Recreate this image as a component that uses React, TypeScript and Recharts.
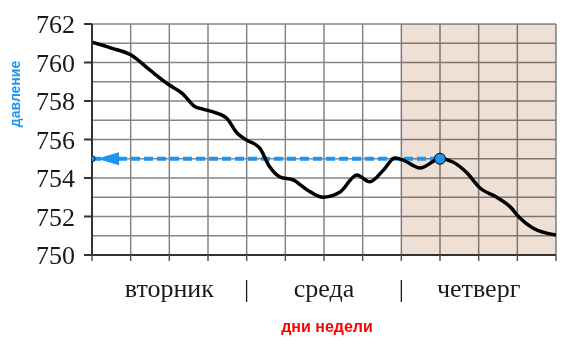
import {
  ComposedChart,
  Line,
  Scatter,
  XAxis,
  YAxis,
  CartesianGrid,
  ReferenceArea,
} from "recharts";

// hours since start of Tuesday, 4 columns = 1 day
const hours = [0, 3, 6, 9, 12, 14, 16, 17.2, 18.8, 20.9, 22.5, 24, 26, 27.6, 29.2, 31.2, 33.4, 35.8, 38.5, 41.1, 43.1, 45.2, 47, 48.3, 50.9, 54, 56, 58.2, 60.2, 62.8, 64.9, 66.4, 68.4, 72];
const pressure = [761.05, 760.75, 760.4, 759.6, 758.83, 758.4, 757.7, 757.58, 757.43, 757.1, 756.34, 755.97, 755.56, 754.57, 754.05, 753.9, 753.38, 753.0, 753.27, 754.16, 753.8, 754.4, 755.04, 754.93, 754.52, 755, 754.83, 754.26, 753.48, 753.0, 752.5, 751.92, 751.4, 751.04];

const colTicks = [0, 6, 12, 18, 24, 30, 36, 42, 48, 54, 60, 66, 72];
const yTicks = [750, 752, 754, 756, 758, 760, 762];
const yGrid = [750, 751, 752, 753, 754, 755, 756, 757, 758, 759, 760, 761, 762];
const dayTicks = [12, 36, 60];
const dayNames = ["вторник", "среда", "четверг"];
const sepTicks = [24, 48];
const markerHours = [0, 54];
const markerValue = 755;
const shadeFrom = 48;
const shadeTo = 72;

const curve = hours.map((h, i) => ({ h, v: pressure[i] }));
const markers = markerHours.map((h) => ({ h, v: markerValue }));

const BLUE = "#1f95ee";
const SERIF = "'Liberation Serif', 'Times New Roman', serif";
const SANS = "'Liberation Sans', Arial, sans-serif";

function DayTick(props: any) {
  const { x, y, payload } = props;
  const i = dayTicks.indexOf(payload.value);
  const label = i >= 0 ? dayNames[i] : sepTicks.includes(payload.value) ? "|" : "";
  if (!label) return <g />;
  return (
    <text x={x} y={y} dy={34} textAnchor="middle" fontSize={26} fontFamily={SERIF} fill="#1a1a1a">
      {label}
    </text>
  );
}

function Marker(props: any) {
  const { cx, cy, payload } = props;
  if (payload.h === 0) {
    return (
      <g>
        <polygon points={`${cx + 5},${cy} ${cx + 27},${cy - 6.5} ${cx + 27},${cy + 6.5}`} fill={BLUE} />
        <circle cx={cx} cy={cy} r={3} fill={BLUE} stroke="#000" strokeWidth={0.8} />
      </g>
    );
  }
  return <circle cx={cx} cy={cy} r={5.5} fill={BLUE} stroke="#000" strokeWidth={1} />;
}

export default function App() {
  return (
    <div style={{ position: "absolute", left: 0, top: 0, width: 568, height: 344 }}>
      <ComposedChart width={568} height={344} margin={{ top: 24, right: 12, left: 32, bottom: 59 }}>
        <ReferenceArea
          x1={shadeFrom}
          x2={shadeTo}
          y1={750}
          y2={762}
          shape={(p: any) => (
            <rect x={p.x} y={p.y} width={p.width} height={p.height} fill="#efe0d6" style={{ mixBlendMode: "multiply" }} />
          )}
        />
        <CartesianGrid
          stroke="#858585"
          strokeWidth={1.5}
          horizontalValues={yGrid}
          verticalValues={colTicks}
        />
        <XAxis
          type="number"
          dataKey="h"
          domain={[0, 72]}
          ticks={colTicks}
          interval={0}
          height={30}
          allowDataOverflow
          axisLine={{ stroke: "#333", strokeWidth: 2 }}
          tickLine={{ stroke: "#555", strokeWidth: 1.5 }}
          tickSize={6}
          tick={DayTick}
        />
        <YAxis
          type="number"
          domain={[750, 762]}
          ticks={yTicks}
          interval={0}
          width={60}
          allowDataOverflow
          axisLine={{ stroke: "#333", strokeWidth: 2 }}
          tickLine={{ stroke: "#333", strokeWidth: 2 }}
          tickSize={8}
          tickMargin={9}
          tick={{ fontSize: 26, fontFamily: SERIF, fill: "#1a1a1a" }}
        />
        <Line
          data={markers}
          dataKey="v"
          stroke={BLUE}
          strokeWidth={4}
          strokeDasharray="9 4"
          dot={false}
          activeDot={false}
          isAnimationActive={false}
        />
        <Line
          data={curve}
          dataKey="v"
          type="monotone"
          stroke="#000"
          strokeWidth={3.5}
          dot={false}
          activeDot={false}
          isAnimationActive={false}
        />
        <Scatter data={markers} dataKey="v" shape={Marker} isAnimationActive={false} />
      </ComposedChart>
      <svg width={568} height={344} style={{ position: "absolute", left: 0, top: 0, pointerEvents: "none" }}>
        <text
          x={15}
          y={94}
          transform="rotate(-90, 15, 94)"
          textAnchor="middle"
          dominantBaseline="central"
          fontFamily={SANS}
          fontWeight="bold"
          fontSize={14}
          fill={BLUE}
        >
          давление
        </text>
        <text
          x={327}
          y={326}
          textAnchor="middle"
          dominantBaseline="central"
          fontFamily={SANS}
          fontWeight="bold"
          fontSize={16}
          fill="#ff0000"
        >
          дни недели
        </text>
      </svg>
    </div>
  );
}
